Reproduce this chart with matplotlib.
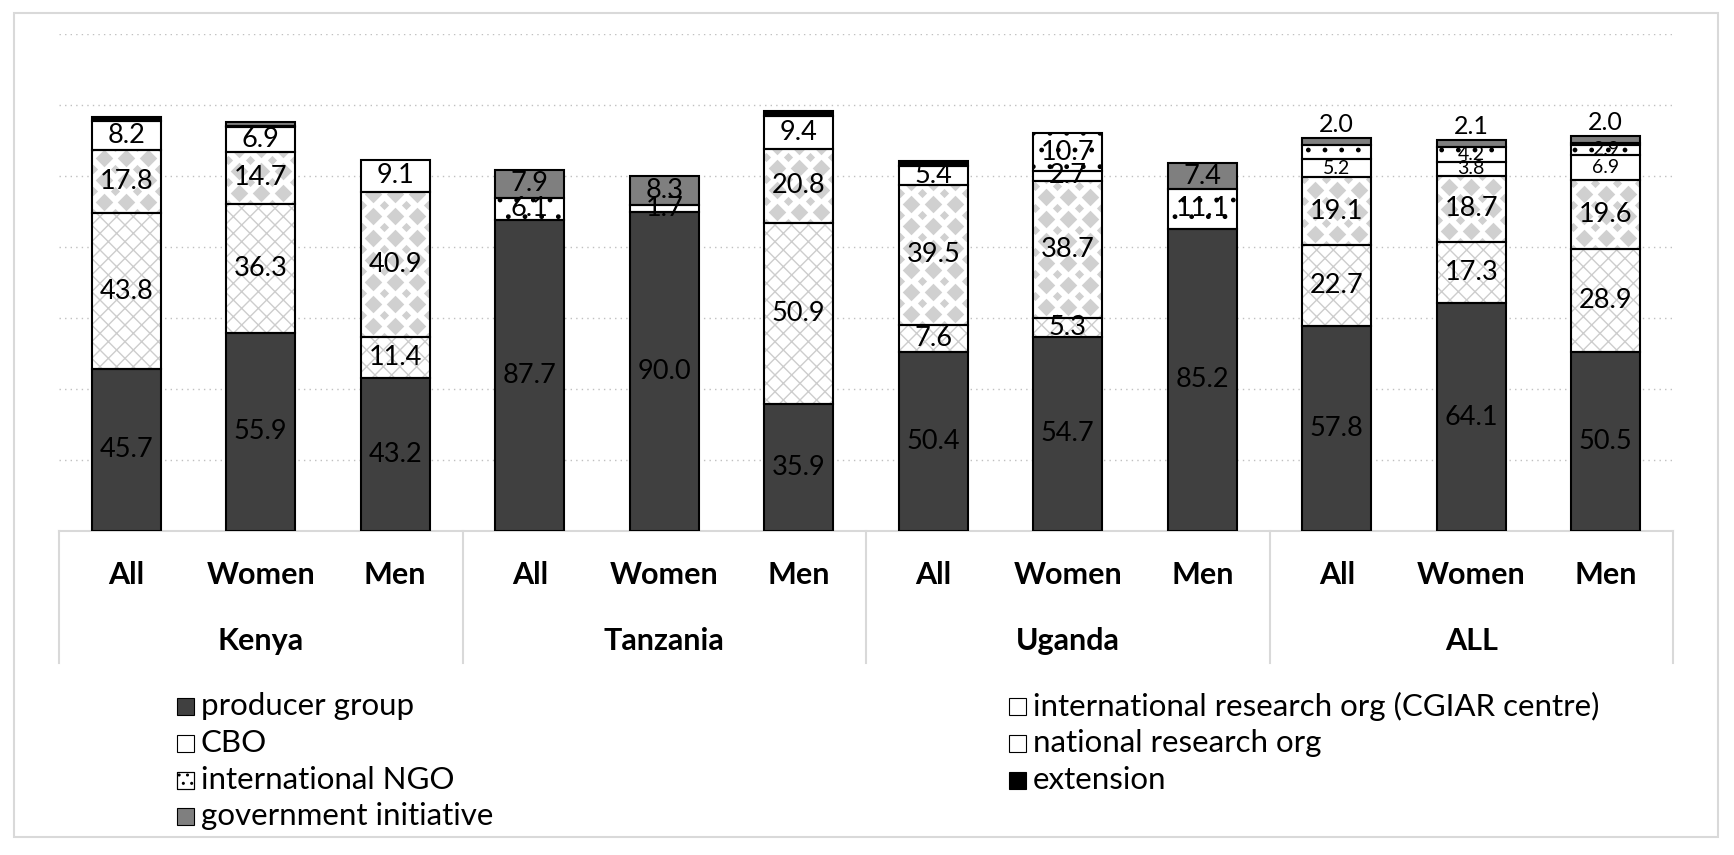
import matplotlib
matplotlib.use('Agg')
import matplotlib.pyplot as plt
import numpy as np
from matplotlib.patches import Rectangle

plt.rcParams['font.family'] = ['Lato', 'DejaVu Sans']
plt.rcParams['hatch.linewidth'] = 1.0

# ---------------- data ----------------
countries = ['Kenya', 'Tanzania', 'Uganda', 'ALL']
subgroups = ['All', 'Women', 'Men']

producer_group = [45.7, 55.9, 43.2, 87.7, 90.0, 35.9, 50.4, 54.7, 85.2, 57.8, 64.1, 50.5]
intl_research = [43.8, 36.3, 11.4, 0.0, 0.0, 50.9, 7.6, 5.3, 0.0, 22.7, 17.3, 28.9]
cbo = [17.8, 14.7, 40.9, 0.0, 0.0, 20.8, 39.5, 38.7, 0.0, 19.1, 18.7, 19.6]
national_research = [8.2, 6.9, 9.1, 0.0, 0.0, 9.4, 5.4, 2.7, 0.0, 5.2, 3.8, 6.9]
intl_ngo = [0.0, 0.0, 0.0, 6.1, 1.7, 0.0, 0.0, 10.7, 11.1, 4.0, 4.2, 2.9]
extension = [1.2, 0.4, 0.0, 0.0, 0.0, 1.3, 1.4, 0.0, 0.0, 0.0, 0.0, 0.5]
government = [0.0, 0.9, 0.0, 7.9, 8.3, 0.0, 0.0, 0.0, 7.4, 2.0, 2.1, 2.0]

series_names = ['producer group', 'international research org (CGIAR centre)', 'CBO',
                'national research org', 'international NGO', 'extension',
                'government initiative']
series_values = [producer_group, intl_research, cbo, national_research,
                 intl_ngo, extension, government]
# ---------------------------------------

W, H = 1734, 855
fig = plt.figure(figsize=(W / 100, H / 100), dpi=100)
ax = fig.add_axes([59 / W, 1 - 531 / H, (1673 - 59) / W, (531 - 34) / H])
n = len(producer_group)
x = np.arange(n)
ax.set_xlim(-0.5, n - 0.5)
ax.set_ylim(0, 140)
ax.set_autoscale_on(False)
ax.set_axis_off()

bw = 0.51
edge_lw = 1.5

# gridlines
ax.hlines(np.arange(20, 141, 20), -0.5, n - 0.5, colors='#c0c0c0',
          linestyles=(0, (1, 3)), lw=1.0, zorder=0)

styles = {
    'producer group': dict(face='#404040'),
    'international research org (CGIAR centre)': dict(face='white', hatch='xx', hcol='#cdcdcd'),
    'CBO': dict(face='white', diamonds=True),
    'national research org': dict(face='white'),
    'international NGO': dict(face='white', hatch='.', hcol='black'),
    'extension': dict(face='black'),
    'government initiative': dict(face='#7f7f7f'),
}

p = ax.transData.transform([[0, 0], [1, 1]])
ppx = p[1, 0] - p[0, 0]
ppy = p[1, 1] - p[0, 1]


def diamond_texture(patch, xc, y0, h):
    sp = 22.0
    dx = sp / ppx
    dy = sp / ppy
    xs_main = xc + np.arange(-2, 3) * dx
    xs_off = xc + (np.arange(-3, 3) + 0.5) * dx
    nrows = int(h / dy) + 3
    pts_main, pts_small = [], []
    for r in range(-1, nrows):
        yy = y0 + r * dy + dy * 0.5
        for xx in xs_main:
            pts_main.append((xx, yy))
        for xx in xs_off:
            pts_small.append((xx, yy + dy * 0.5))
    pm = np.array(pts_main)
    ps = np.array(pts_small)
    c1 = ax.scatter(pm[:, 0], pm[:, 1], marker='D', s=80, c='#d0d0d0',
                    linewidths=0, zorder=2.5)
    c1.set_clip_path(patch)
    c2 = ax.scatter(ps[:, 0], ps[:, 1], marker='D', s=22, c='#d0d0d0',
                    linewidths=0, zorder=2.5)
    c2.set_clip_path(patch)


bottom = np.zeros(n)
tops = np.array([sum(v[i] for v in series_values) for i in range(n)])
for name, vals in zip(series_names, series_values):
    vals = np.array(vals)
    st = styles[name]
    for i in range(n):
        v = vals[i]
        if v <= 0:
            continue
        b = bottom[i]
        fill = ax.bar(x[i], v, bw, bottom=b, color=st['face'], lw=0, zorder=2)[0]
        if 'hatch' in st:
            ax.bar(x[i], v, bw, bottom=b, color='none', edgecolor=st['hcol'],
                   hatch=st['hatch'], lw=0, zorder=2.2)
        if st.get('diamonds'):
            diamond_texture(fill, x[i], b, v)
        ax.bar(x[i], v, bw, bottom=b, color='none', edgecolor='black',
               lw=edge_lw, zorder=4)
        # labels
        if name == 'extension':
            continue
        if name == 'government initiative' and v < 3:
            if i >= 9:
                ax.text(x[i], tops[i] + 0.6, f'{v:.1f}', ha='center', va='bottom',
                        fontsize=18, zorder=5)
            continue
        if name == 'international NGO' and i == 9:
            continue
        small = (i >= 9 and v < 8)
        ax.text(x[i], b + v / 2, f'{v:.1f}', ha='center', va='center',
                fontsize=14 if small else 19.5, zorder=3)
    bottom += vals

# category axis box
axis_col = '#d9d9d9'
ax.plot([-0.5, n - 0.5], [0, 0], color=axis_col, lw=1.5, zorder=1, clip_on=False)
tr = ax.get_xaxis_transform()
for xb in [-0.5, 2.5, 5.5, 8.5, 11.5]:
    ax.plot([xb, xb], [0, -0.2654], color=axis_col, lw=1.5, transform=tr,
            clip_on=False, zorder=1)
for i in range(n):
    ax.text(x[i], -0.0884, subgroups[i % 3], transform=tr, ha='center', va='center',
            fontsize=22, fontweight='bold')
for g, c in enumerate(countries):
    ax.text(3 * g + 1, -0.2212, c, transform=tr, ha='center', va='center',
            fontsize=22, fontweight='bold')

# outer border
fig.add_artist(Rectangle((14 / W, 1 - 837 / H), (1718 - 14) / W, (837 - 13) / H,
                         transform=fig.transFigure, fill=False,
                         edgecolor='#d9d9d9', lw=1.5))

# legend (two columns)
leg_order = [['producer group', 'CBO', 'international NGO', 'government initiative'],
             ['international research org (CGIAR centre)', 'national research org',
              'extension']]
col_x = [177, 1009]
row_y = [706, 743, 780, 816]
msz = 17
for ci, col in enumerate(leg_order):
    for ri, name in enumerate(col):
        st = styles[name]
        mx = col_x[ci]
        my = row_y[ri]
        face = st['face']
        fig.add_artist(Rectangle((mx / W, 1 - (my + msz / 2) / H), msz / W, msz / H,
                                 transform=fig.transFigure, facecolor=face,
                                 edgecolor='black', lw=0.8))
        if st.get('hatch') == '.':
            fig.add_artist(Rectangle((mx / W, 1 - (my + msz / 2) / H), msz / W, msz / H,
                                     transform=fig.transFigure, facecolor='none',
                                     edgecolor='black', hatch='..', lw=0.8))
        fig.text((mx + msz + 7) / W, 1 - my / H, name, ha='left', va='center',
                 fontsize=22.5)

fig.savefig('out.png', dpi=100)
